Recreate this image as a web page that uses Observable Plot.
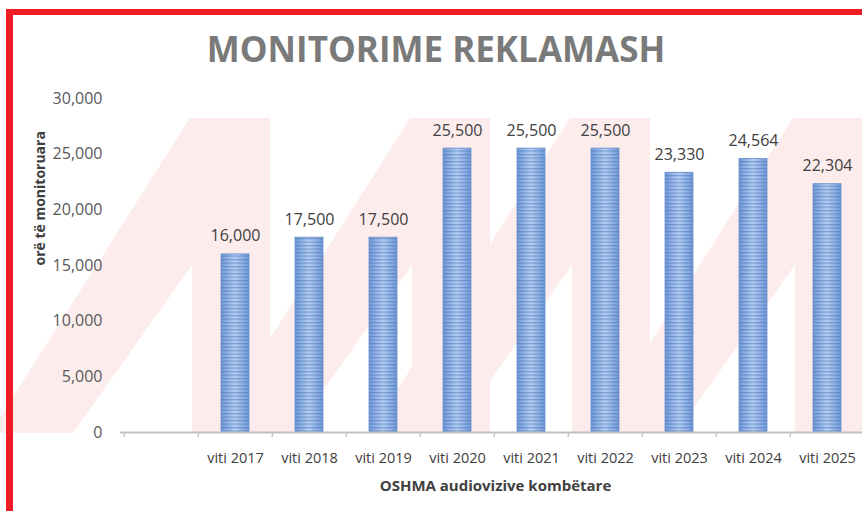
<!DOCTYPE html>
<html>
<head>
<meta charset="utf-8">
<script src="https://cdn.jsdelivr.net/npm/d3@7"></script>
<script src="https://cdn.jsdelivr.net/npm/@observablehq/plot@0.6"></script>
<style>
  html, body { margin: 0; padding: 0; background: #fff; }
  body { width: 862px; height: 511px; overflow: hidden; position: relative; font-family: "Open Sans", sans-serif; }
  #frame { position: absolute; left: 6px; top: 9px; width: 900px; height: 560px; border-top: 6px solid #ee1c25; border-left: 7px solid #ee1c25; box-sizing: border-box; }
  #wm { position: absolute; left: 0; top: 0; }
  #title { position: absolute; left: 436px; top: 31px; transform: translateX(-50%); font-size: 35px; line-height: 1; font-weight: 700; color: #7a7a7a; white-space: nowrap; }
  #chart { position: absolute; left: 0; top: 0; }
</style>
</head>
<body>
<svg id="wm" width="862" height="511"></svg>
<div id="frame"></div>
<div id="title">MONITORIME REKLAMASH</div>
<div id="chart"></div>
<script>
const categories = ["", "viti 2017", "viti 2018", "viti 2019", "viti 2020", "viti 2021", "viti 2022", "viti 2023", "viti 2024", "viti 2025"];
const years = ["viti 2017", "viti 2018", "viti 2019", "viti 2020", "viti 2021", "viti 2022", "viti 2023", "viti 2024", "viti 2025"];
const hours = [16000, 17500, 17500, 25500, 25500, 25500, 23330, 24564, 22304];
const yTicks = [0, 5000, 10000, 15000, 20000, 25000, 30000];
const xTitle = "OSHMA audiovizive kombëtare";
const yTitle = "orë të monitoruara";

const data = years.map((c, i) => ({cat: c, value: hours[i]}));

// decorative watermark (background logo)
const wmUnits = [190, 410, 570, 793];
const wm = d3.select("#wm");
for (const xt of wmUnits) {
  const pts = [[xt - 200, 433], [xt, 118], [xt + 80, 118], [xt + 80, 433], [xt + 2, 433], [xt + 2, 265], [xt - 117, 433]];
  wm.append("polygon").attr("points", pts.map(p => p.join(",")).join(" ")).attr("fill", "#fdecec");
}

const fmt = d3.format(",");
const width = 862, height = 511;
const x0 = 122, x1 = 867;
const step = (x1 - x0) / categories.length;

const chart = Plot.plot({
  width, height,
  marginLeft: 120, marginRight: 0, marginTop: 98, marginBottom: 79,
  style: {fontFamily: "'Open Sans', sans-serif", background: "transparent", overflow: "visible"},
  x: {domain: categories, range: [x0, x1], paddingInner: 0.62, paddingOuter: 0.31, label: null},
  y: {domain: [0, 30000], label: null},
  marks: [
    Plot.barY(data, {x: "cat", y: "value", fill: "url(#barGrad)"}),
    Plot.barY(data, {x: "cat", y: "value", fill: "url(#barStripes)", stroke: "#6a92d0", strokeWidth: 0.8}),
    Plot.ruleY([0], {stroke: "#bfbfbf", strokeWidth: 2}),
    Plot.ruleX(categories, {x: d => d, y1: 0, y2: 0, insetBottom: -5, dx: -step / 2, stroke: "#bfbfbf", strokeWidth: 1.2}),
    Plot.axisY({ticks: yTicks, tickFormat: fmt, tickSize: 0, tickPadding: 18, fontSize: 16, fill: "#595959", label: null}),
    Plot.axisX({tickSize: 0, tickPadding: 20, fontSize: 14.5, fill: "#404040", label: null}),
    Plot.text(data, {x: "cat", y: "value", text: d => fmt(d.value), dy: -18, fontSize: 16, fill: "#404040"}),
    Plot.text([xTitle], {frameAnchor: "bottom", lineAnchor: "middle", dx: 4, dy: 53.5, fontSize: 15, fontWeight: "bold", fill: "#404040"}),
    Plot.text([yTitle], {frameAnchor: "left", lineAnchor: "middle", rotate: -90, dx: -80, fontSize: 14, fontWeight: "bold", fill: "#404040"})
  ]
});

const defs = d3.select(chart).insert("defs", ":first-child");
const grad = defs.append("linearGradient").attr("id", "barGrad").attr("x1", 0).attr("x2", 1).attr("y1", 0).attr("y2", 0);
grad.append("stop").attr("offset", "0%").attr("stop-color", "#7099d8");
grad.append("stop").attr("offset", "50%").attr("stop-color", "#b6cff2");
grad.append("stop").attr("offset", "100%").attr("stop-color", "#7099d8");
const pat = defs.append("pattern").attr("id", "barStripes").attr("patternUnits", "userSpaceOnUse").attr("width", 10).attr("height", 3.5);
pat.append("rect").attr("x", 0).attr("y", 0).attr("width", 10).attr("height", 1.2).attr("fill", "#4470b5").attr("fill-opacity", 0.5);

document.getElementById("chart").appendChild(chart);
</script>
</body>
</html>
